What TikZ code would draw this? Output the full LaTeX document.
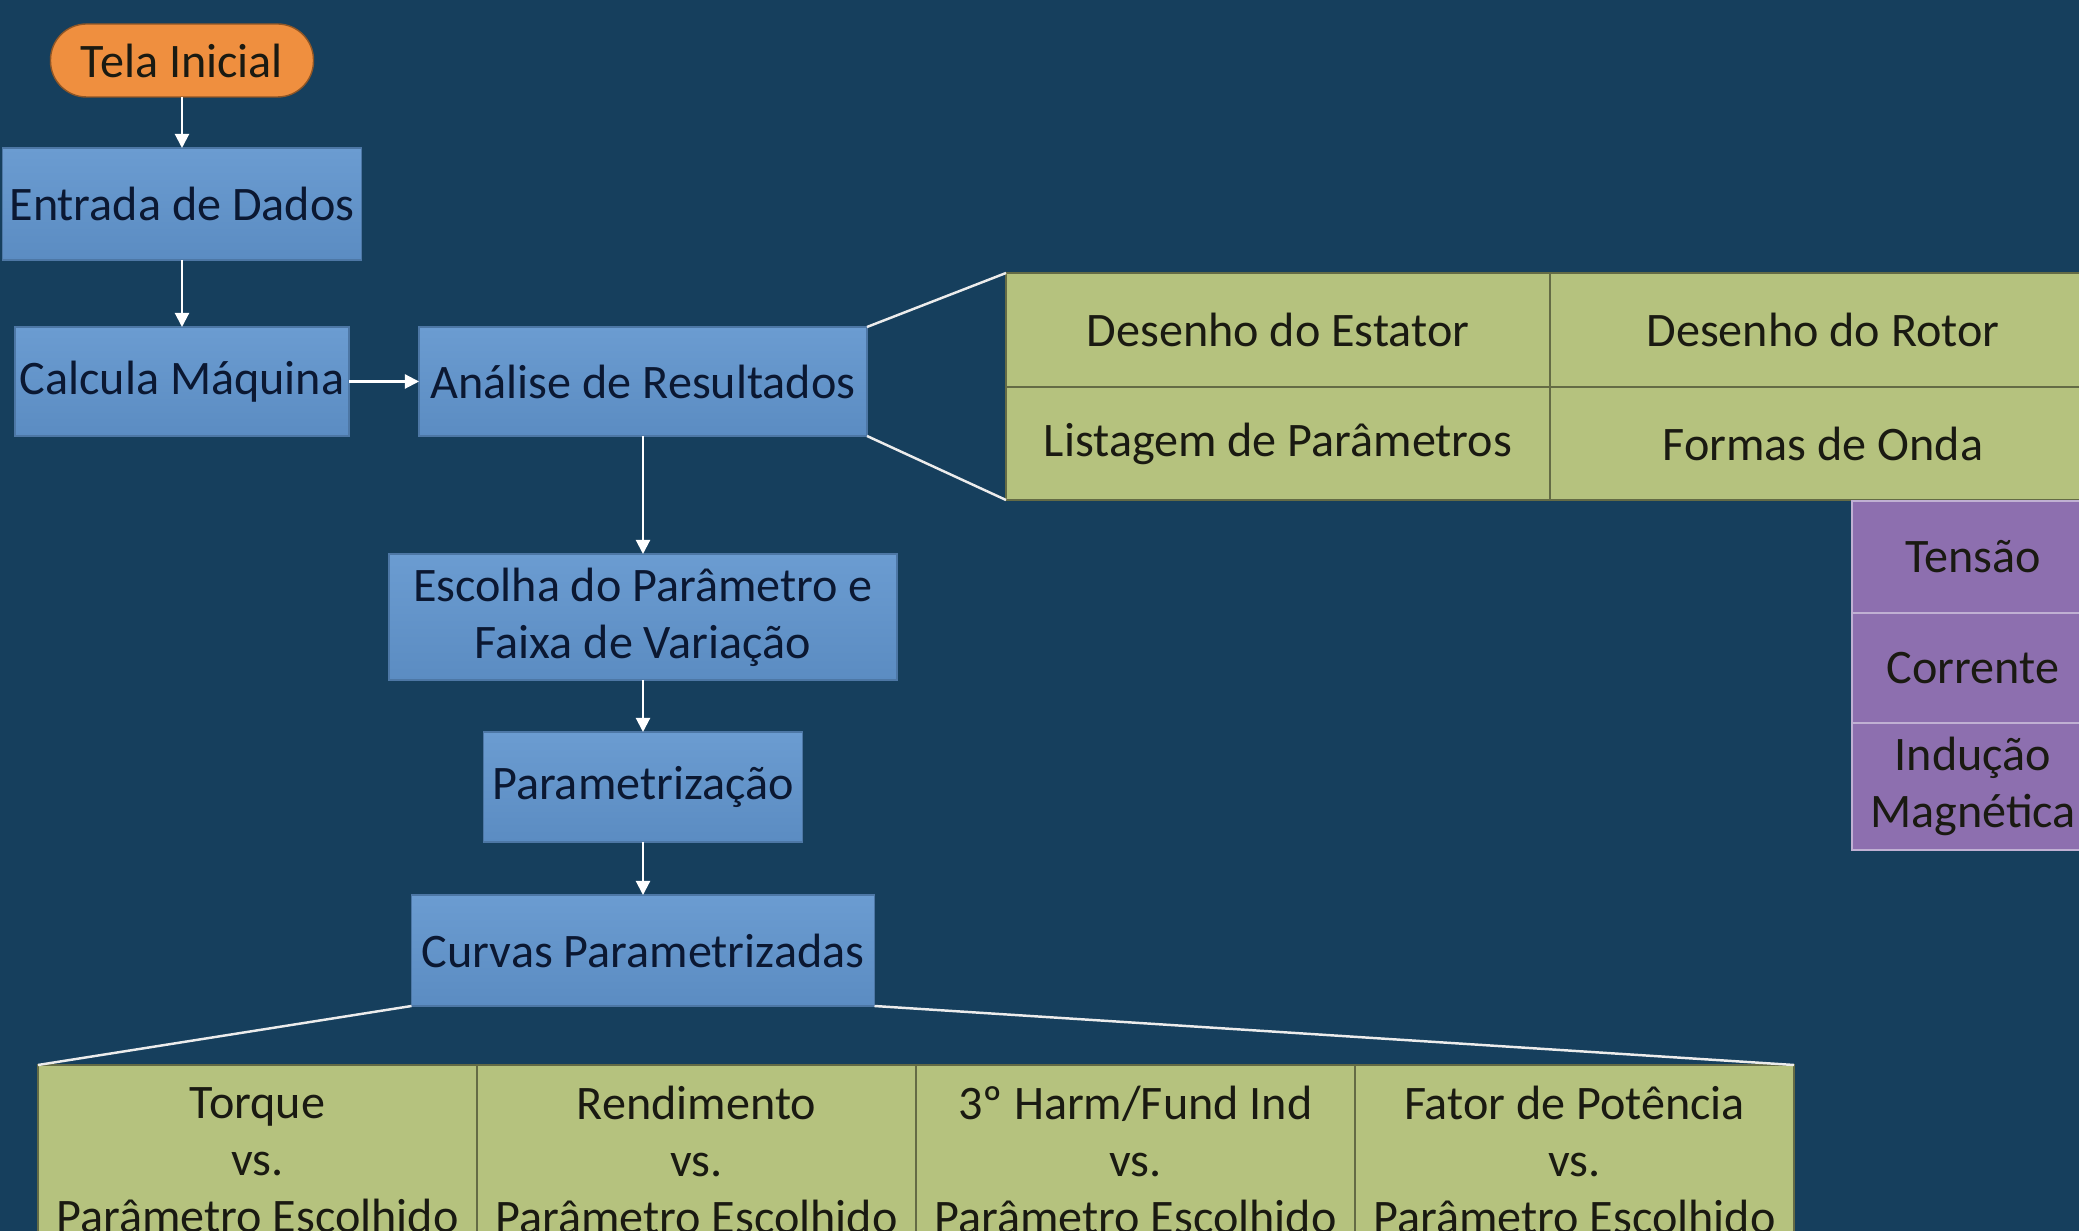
\documentclass[tikz,border=0pt]{standalone}
\usepackage{fontspec}
\setmainfont{Carlito}
\usetikzlibrary{arrows.meta,positioning}

\definecolor{fundo}{HTML}{163F5D}
\definecolor{caixa}{HTML}{5B8CC2}
\definecolor{caixatopo}{HTML}{6B9CD1}
\definecolor{verde}{HTML}{B5C27E}
\definecolor{roxo}{HTML}{8D6FAF}
\definecolor{laranja}{HTML}{EF8F3F}
\definecolor{textoazul}{HTML}{0B1832}
\definecolor{textoescuro}{HTML}{1A1A12}

\begin{document}
\begin{tikzpicture}[>={Triangle[length=4pt,width=4pt]},
    every node/.style={font=\fontsize{13.7}{16.2}\selectfont, outer sep=0pt},
    etapa/.style={draw=caixa!85!black, line width=0.3pt, top color=caixatopo,
        bottom color=caixa, text=textoazul, align=center, inner sep=0pt},
    inicio/.style={draw=laranja!60!black, line width=0.4pt, fill=laranja,
        rounded corners=3.6mm, text=textoescuro, inner sep=0pt},
    tabela/.style={draw=verde!55!black, line width=0.4pt, fill=verde,
        text=textoescuro, align=center, inner sep=0pt},
    lista/.style={draw=roxo!55!white, line width=0.4pt, fill=roxo,
        text=textoescuro, align=center, inner sep=0pt},
    seta/.style={->, draw=white, line width=0.6pt},
    linha/.style={draw=white!85!gray, line width=0.7pt}]

    \useasboundingbox (0,0) rectangle (20.79,-12.31);
    \clip (0,0) rectangle (20.79,-12.31);
    \fill[fundo] (0,0) rectangle (20.79,-12.31);

    % fluxo principal
    \node[inicio, minimum width=2.63cm, minimum height=0.73cm] (tela) at (1.82,-0.605) {Tela Inicial};
    \node[etapa, minimum width=3.59cm, minimum height=1.12cm] (entrada) at (1.82,-2.04) {Entrada de Dados};
    \node[etapa, minimum width=3.34cm, minimum height=1.09cm] (calcula) at (1.82,-3.815) {Calcula Máquina};
    \node[etapa, minimum width=4.48cm, minimum height=1.09cm] (analise) at (6.43,-3.815) {Análise de Resultados};
    \node[etapa, minimum width=5.08cm, minimum height=1.26cm] (escolha) at (6.43,-6.17) {Escolha do Parâmetro e\\Faixa de Variação};
    \node[etapa, minimum width=3.19cm, minimum height=1.10cm] (param) at (6.43,-7.87) {Parametrização};
    \node[etapa, minimum width=4.63cm, minimum height=1.11cm] (curvas) at (6.43,-9.505) {Curvas Parametrizadas};

    \draw[seta] (tela) -- (entrada);
    \draw[seta] (entrada) -- (calcula);
    \draw[seta] (calcula) -- (analise);
    \draw[seta] (analise) -- (escolha);
    \draw[seta] (escolha) -- (param);
    \draw[seta] (param) -- (curvas);

    % resultados
    \node[tabela, minimum width=5.44cm, minimum height=1.14cm] (estator) at (12.78,-3.30) {Desenho do Estator};
    \node[tabela, minimum width=5.46cm, minimum height=1.14cm, right=0pt of estator] (rotor) {Desenho do Rotor};
    \node[tabela, minimum width=5.44cm, minimum height=1.13cm, below=0pt of estator] (listagem) {Listagem de Parâmetros};
    \node[tabela, minimum width=5.46cm, minimum height=1.13cm, right=0pt of listagem] (formas) {Formas de Onda};

    \node[lista, minimum width=2.42cm, minimum height=1.12cm] (tensao) at (19.73,-5.57) {Tensão};
    \node[lista, minimum width=2.42cm, minimum height=1.10cm, below=0pt of tensao] (corrente) {Corrente};
    \node[lista, minimum width=2.42cm, minimum height=1.27cm, below=0pt of corrente] (inducao) {Indução\\Magnética};

    \draw[linha] (analise.north east) -- (estator.north west);
    \draw[linha] (analise.south east) -- (listagem.south west);

    % curvas
    \node[tabela, minimum width=4.39cm, minimum height=1.9cm] (torque) at (2.575,-11.60) {Torque\\vs.\\Parâmetro Escolhido};
    \node[tabela, minimum width=4.39cm, minimum height=1.9cm, right=0pt of torque] (rendimento) {Rendimento\\vs.\\Parâmetro Escolhido};
    \node[tabela, minimum width=4.39cm, minimum height=1.9cm, right=0pt of rendimento] (harm) {3º Harm/Fund Ind\\vs.\\Parâmetro Escolhido};
    \node[tabela, minimum width=4.39cm, minimum height=1.9cm, right=0pt of harm] (fator) {Fator de Potência\\vs.\\Parâmetro Escolhido};

    \draw[linha] (curvas.south west) -- (torque.north west);
    \draw[linha] (curvas.south east) -- (fator.north east);
\end{tikzpicture}
\end{document}
